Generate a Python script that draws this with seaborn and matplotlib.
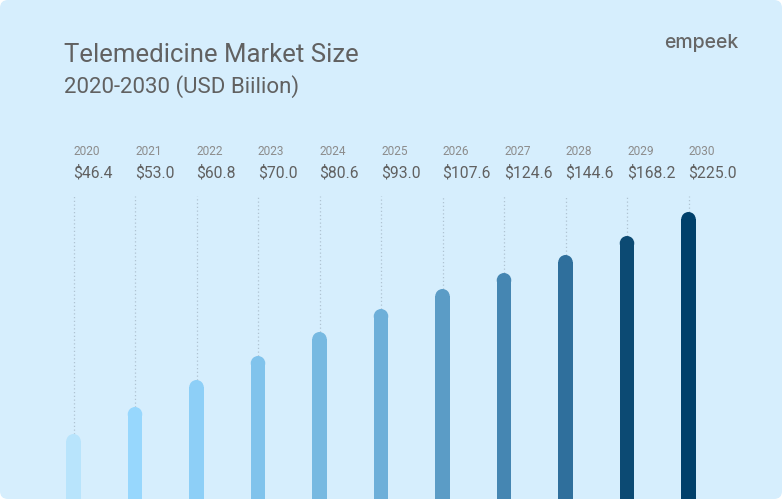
import numpy as np
import seaborn as sb
import matplotlib.pyplot as plt
from matplotlib.patches import FancyBboxPatch

# chart data
years = ['2020', '2021', '2022', '2023', '2024', '2025', '2026', '2027', '2028', '2029', '2030']
market_size = [46.4, 53.0, 60.8, 70.0, 80.6, 93.0, 107.6, 124.6, 144.6, 168.2, 225.0]
# drawn bar lengths as seen in the infographic (not to scale with the values)
bar_heights = [65, 92, 119, 143, 167, 190, 210, 226, 244, 263, 287]
bar_colors = ['#B8E4FC', '#97D7FD', '#8DCFF7', '#80C3EC', '#77B9E1', '#6DAFD9',
              '#5B9CC6', '#4586B2', '#2F6F9C', '#0C4A73', '#00406B']

title = 'Telemedicine Market Size'
subtitle = '2020-2030 (USD Biilion)'
logo = 'empeek'

W, H, dpi = 7.82, 5.0, 100
bg = '#D6EEFD'
text_dark = '#616161'
text_light = '#8C8C8C'

sb.set_style('white')
plt.rcParams['font.family'] = ['Roboto', 'DejaVu Sans']

fig = plt.figure(figsize=(W, H), dpi=dpi)
fig.patch.set_facecolor('white')

# rounded card behind everything
card = FancyBboxPatch((0, 0.01), W, H - 0.01, boxstyle='round,pad=0,rounding_size=0.08',
                      transform=fig.dpi_scale_trans, facecolor=bg, edgecolor='none', zorder=0)
fig.add_artist(card)

# axes: 1 data unit in y == 1 pixel, x categories 61.5px apart starting at x=73.5px
px0, step = 73.5, 61.5
top_px, bottom_px = 196, 499
ax = fig.add_axes([0, (H * dpi - bottom_px) / (H * dpi), 1, (bottom_px - top_px) / (H * dpi)])
ax.patch.set_alpha(0)

bar_w = 14.5 / step
r = 7.25  # cap radius in px
sb.barplot(x=years, y=[h - r for h in bar_heights], hue=years, palette=bar_colors,
           legend=False, width=bar_w, ax=ax, saturation=1, linewidth=0, zorder=3)
ax.set_xlim(-px0 / step, (W * dpi - px0) / step)
ax.set_ylim(0, bottom_px - top_px)
xs = np.arange(len(years))
# round caps on top of the bars
ax.scatter(xs, [h - r for h in bar_heights], s=(14.5 * 72 / dpi) ** 2, c=bar_colors,
           linewidths=0, zorder=3, clip_on=False)

# dotted guides from label to bar top
ax.vlines(xs, bar_heights, bottom_px - top_px, colors='#AFC3D2', linestyles=(0, (1, 2)),
          linewidth=0.9, zorder=2)

for i, (yr, v) in enumerate(zip(years, market_size)):
    ax.text(i, bottom_px - 155, yr, fontsize=8.6, color=text_light, ha='left', va='baseline',
            clip_on=False)
    ax.text(i, bottom_px - 177.5, f'${v:.1f}', fontsize=11.3, color=text_dark, ha='left',
            va='baseline', clip_on=False)

ax.axis('off')

fig.text(64 / (W * dpi), 1 - 62 / (H * dpi), title, fontsize=18.5, color=text_dark, va='baseline')
fig.text(64 / (W * dpi), 1 - 93 / (H * dpi), subtitle, fontsize=16, color=text_dark, va='baseline')
fig.text(738 / (W * dpi), 1 - 48 / (H * dpi), logo, fontsize=14, color='#666666',
         fontweight='medium', ha='right', va='baseline', family=['Inter', 'DejaVu Sans'])

plt.savefig('out.png', dpi=dpi, facecolor=fig.get_facecolor())
